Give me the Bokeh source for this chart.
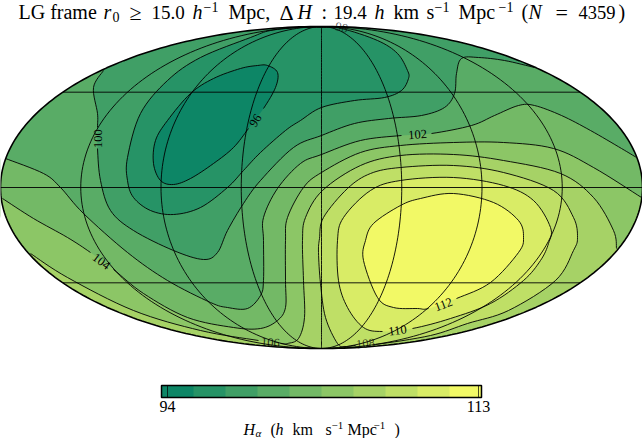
from math import sin, cos, pi, radians
from bokeh.embed import file_html
from bokeh.resources import INLINE
from bokeh.plotting import figure
from bokeh.core.properties import value
from bokeh.models import Range1d, ColorBar, LinearColorMapper, FixedTicker

# ---- data ----------------------------------------------------------------
PALETTE = ["#0d8666", "#269366", "#409f66", "#59ac66", "#73b966",
           "#8cc666", "#a6d266", "#bfdf66", "#d9ec66", "#f2f966"]
CBAR_LOW, CBAR_HIGH = 93.63, 113.18
CBAR_TICKS = [94, 113]

# H_alpha contours, traced as (x across, y down) on the picture; None = gap for label
C96 = [(267, 65), (277, 72), (275, 87), (263, 108), None, (248, 128), (233, 147), (213, 163),
       (190, 178), (173, 184), (160, 180), (153, 163), (155, 140), (167, 120), (190, 93),
       (213, 78), (240, 68), (257, 65)]
C98 = [(321, 27), (341, 28), (377, 40), (397, 53), (407, 70), (408, 78), (401, 90), (384, 97),
       (354, 100), (321, 107), (300, 120), (285, 130), (260, 152), (243, 170), (227, 187),
       (200, 207), (173, 214), (150, 210), (133, 197), (127, 180), (127, 157), (140, 113),
       (167, 80), (200, 57), (250, 37), (270, 30), (300, 27)]
C100 = [(103, 70), (93, 87), (97, 113), (97, 127), None, (97, 148), (100, 180), (110, 210),
        (133, 230), (173, 250), (203, 259), (217, 252), (227, 230), (243, 203), (260, 180),
        (293, 147), (321, 135), (354, 123), (388, 118), (421, 115), (444, 107), (454, 93),
        (456, 73), (461, 58), (478, 57), (504, 60), (534, 67)]
C102 = [(5, 158), (43, 173), (60, 187), (83, 213), (127, 252), (167, 280), (210, 302), (227, 307),
        (247, 308), (260, 295), (263, 280), (263, 240), (263, 217), (277, 188), (300, 163),
        (321, 154), (360, 140), (401, 135), None, (431, 133), (471, 125), (494, 115), (518, 105),
        (534, 105), (561, 115), (590, 130), (621, 148), (636, 157)]
C104 = [(2, 198), (33, 218), (67, 237), (90, 252), None, (113, 269), (143, 293), (187, 317),
        (233, 327), (260, 328), (277, 320), (285, 307), (285, 280), (285, 240), (287, 217),
        (303, 187), (321, 172), (360, 152), (400, 145), (453, 142), (503, 142), (553, 148),
        (593, 167), (641, 197)]
C106 = [(30, 253), (67, 277), (133, 310), (200, 330), (258, 340), None, (280, 343), (287, 343),
        (298, 338), (304, 317), (303, 280), (302, 240), (305, 217), (322, 190), (360, 165),
        (400, 155), (453, 154), (503, 160), (560, 173), (593, 197), (613, 230), (616, 248)]
C108 = [(347, 188), (370, 173), (400, 167), (453, 165), (503, 172), (553, 190), (573, 217),
        (577, 237), (573, 250), (555, 280), (508, 310), (467, 323), (430, 335), (375, 344), None,
        (355, 345), (345, 346), (337, 343), (325, 317), (320, 283), (318, 252), (319, 238),
        (323, 217)]
C110 = [(370, 190), (400, 180), (453, 177), (503, 185), (533, 200), (550, 227), (548, 243),
        (540, 260), (523, 280), (490, 303), (450, 318), (412, 328), None, (382, 331), (363, 327),
        (347, 307), (338, 280), (337, 240), (343, 217)]
C112 = [(400, 205), (420, 198), (453, 193), (493, 202), (518, 220), (523, 237), (518, 252),
        (490, 282), (456, 298), None, (428, 308), (417, 308), (393, 307), (377, 297), (363, 260),
        (365, 240), (373, 223)]

# outside-the-map corners that close open contours (hidden by the white mask)
BASE = [(0, 160), (0, 215), (30, 370), (612, 370), (642, 215), (642, 160), (612, 10), (30, 10)]
OUT100 = [(560, 10), (90, 10)]
OUT102 = [(642, 157), (642, 215), (612, 370), (30, 370), (0, 215), (0, 158)]
OUT104 = [(642, 197), (642, 215), (612, 370), (30, 370), (0, 215), (0, 198)]
OUT106 = [(625, 248), (612, 370), (30, 370), (15, 253)]

# label, x, y, angle in degrees, alpha
C_LABELS = [("96", 255, 120, 57, 1), ("98", 341, 27, -12, .6), ("100", 97, 138, 90, 1),
            ("102", 417, 134, 4, 1), ("104", 101, 261, -37, 1), ("106", 270, 342, -4, .8),
            ("108", 365, 343, 6, .7), ("110", 397, 330, 8, 1), ("112", 443, 304, 20, 1)]

# text piece, x, baseline y, size px, style
TITLE = [("LG frame", 18, 18, 20, "normal"), ("r", 103, 18, 20, "italic"), ("0", 112, 21, 14, "normal"),
         ("≥", 129, 19, 22, "normal"), ("15.0", 151, 18, 19, "normal"), ("h", 192, 18, 20, "italic"),
         ("−1", 203, 11, 14, "normal"), ("Mpc,", 228, 18, 20, "normal"), ("Δ", 279, 19, 22, "normal"),
         ("H", 297, 18, 20, "italic"), (":", 321, 18, 20, "normal"), ("19.4", 333, 18, 19, "normal"),
         ("h", 374, 18, 20, "italic"), ("km", 393, 18, 20, "normal"), ("s", 426, 18, 20, "normal"),
         ("−1", 434, 11, 14, "normal"), ("Mpc", 458, 18, 20, "normal"), ("−1", 498, 11, 14, "normal"),
         ("(", 521, 18, 20, "normal"), ("N", 528, 18, 20, "italic"), ("=", 555, 19, 22, "normal"),
         ("4359", 578, 18, 18.5, "normal"), (")", 618, 18, 20, "normal")]
CBAR_LABEL = [("H", 243, 434, 16, "italic"), ("α", 255, 436, 11, "italic"), ("(", 270, 434, 16, "normal"),
              ("h", 275, 434, 16, "italic"), ("km", 292, 434, 16, "normal"), ("s", 325, 434, 16, "normal"),
              ("−1", 331, 429, 11, "normal"), ("Mpc", 347, 434, 16, "normal"), ("−1", 373, 429, 11, "normal"),
              (")", 394, 434, 16, "normal")]

LONS = [-135, -90, -45, 0, 45, 90, 135]
LATS = [-45, 0, 45]

# ---- geometry helpers ----------------------------------------------------
CX, CY, A, B = 321, 187, 321, 161
FONT = "Liberation Serif"


def plane(p):
    return p[0] - CX, CY - p[1]


def spline(pts, closed=False):
    """Draw a smooth curve through the read points; returns fill and stroke paths."""
    P, gaps = [], set()
    for q in pts:
        if q is None:
            gaps.add(len(P) - 1)
        else:
            P.append(plane(q))
    n = len(P)
    fx, fy, lx, ly = [], [], [], []
    for i in range(n if closed else n - 1):
        if closed:
            p0, p1, p2, p3 = P[(i - 1) % n], P[i], P[(i + 1) % n], P[(i + 2) % n]
        else:
            p0, p1, p2, p3 = P[max(i - 1, 0)], P[i], P[i + 1], P[min(i + 2, n - 1)]
        for k in range(9):
            t = k / 8
            c = [0.5 * (2 * p1[d] + (p2[d] - p0[d]) * t + (2 * p0[d] - 5 * p1[d] + 4 * p2[d] - p3[d]) * t * t
                        + (3 * p1[d] - p0[d] - 3 * p2[d] + p3[d]) * t ** 3) for d in (0, 1)]
            fx.append(c[0])
            fy.append(c[1])
            if i not in gaps:
                lx.append(c[0])
                ly.append(c[1])
        if i in gaps:
            lx.append(float("nan"))
            ly.append(float("nan"))
    return fx, fy, lx, ly


def moll_theta(lat):
    th = radians(lat)
    for _ in range(60):
        th -= (2 * th + sin(2 * th) - pi * sin(radians(lat))) / (2 + 2 * cos(2 * th))
    return th


p = figure(width=642, height=438, x_range=Range1d(-CX, 642 - CX), y_range=Range1d(CY - 438, CY),
           output_backend="svg", toolbar_location=None, min_border=0, outline_line_color=None,
           x_axis_location=None, y_axis_location=None,
           background_fill_color="white", border_fill_color="white")
p.grid.visible = False

# base colour (100-102 band) then nested bands
p.patch([plane(q)[0] for q in BASE], [plane(q)[1] for q in BASE], fill_color=PALETTE[3], line_color=None)

LINE = dict(line_color="black", line_width=0.9)
bands = [(C102, OUT102, PALETTE[4], False), (C104, OUT104, PALETTE[5], False), (C106, OUT106, PALETTE[6], False),
         (C108, [], PALETTE[7], True), (C110, [], PALETTE[8], True), (C112, [], PALETTE[9], True),
         (C100, OUT100, PALETTE[2], False), (C98, [], PALETTE[1], True), (C96, [], PALETTE[0], True)]
paths = []
for pts, out, col, closed in bands:
    fx, fy, lx, ly = spline(pts, closed)
    ox = [plane(q)[0] for q in out]
    oy = [plane(q)[1] for q in out]
    p.patch(fx + ox, fy + oy, fill_color=col, line_color=None)
    paths.append((lx, ly))
for lx, ly in paths:
    p.line(lx, ly, **LINE)

# graticule
steps = [i / 120 for i in range(121)]
for lon in LONS:
    xs, ys = [], []
    for s in steps:
        th = -pi / 2 + pi * s
        xs.append(A * lon / 180 * cos(th))
        ys.append(B * sin(th))
    p.line(xs, ys, **LINE)
for lat in LATS:
    th = moll_theta(lat)
    p.line([-A * cos(th), A * cos(th)], [B * sin(th)] * 2, **LINE)

# white mask outside the map, then its border
ex = [A * cos(2 * pi * i / 360) for i in range(360)]
ey = [B * sin(2 * pi * i / 360) for i in range(360)]
mx = [-CX - 40, 642 - CX + 40, 642 - CX + 40, -CX - 40]
my = [CY - 438 - 40, CY - 438 - 40, CY + 40, CY + 40]
p.multi_polygons(xs=[[[mx, ex]]], ys=[[[my, ey]]], fill_color="white", line_color=None)
p.patch(ex + ex[:1], ey + ey[:1], fill_color=None, line_color="black", line_width=1.6)

# contour labels
for t, x, y, ang, al in C_LABELS:
    q = plane((x, y))
    p.text(x=[q[0]], y=[q[1]], text=[t], angle=[ang], angle_units="deg", text_align="center",
           text_baseline="middle", text_font=value(FONT), text_font_size="12.5px",
           text_color="black", text_alpha=al)

# title and colour-bar label pieces, centred 0.34 em above their baseline
for pieces in (TITLE, CBAR_LABEL):
    for t, x, y, size, style in pieces:
        q = plane((x, y - 0.34 * size))
        p.text(x=[q[0]], y=[q[1]], text=[t], text_align="left", text_baseline="middle",
               text_font=value(FONT), text_font_size=f"{size}px", text_font_style=style, text_color="black")

mapper = LinearColorMapper(palette=PALETTE, low=CBAR_LOW, high=CBAR_HIGH)
bar = ColorBar(color_mapper=mapper, ticker=FixedTicker(ticks=CBAR_TICKS), location=(161, 24),
               orientation="horizontal", width=320, height=12, padding=0, margin=0,
               major_label_text_font=FONT, major_label_text_font_size="16px", major_label_text_color="black",
               label_standoff=3, major_tick_in=12, major_tick_out=0, major_tick_line_color="black",
               major_tick_line_alpha=0.7, minor_tick_line_color=None, bar_line_color="black", bar_line_width=1.5,
               border_line_color=None, background_fill_alpha=0)
p.add_layout(bar, "center")

open("out.html", "w").write(file_html(p, INLINE))
